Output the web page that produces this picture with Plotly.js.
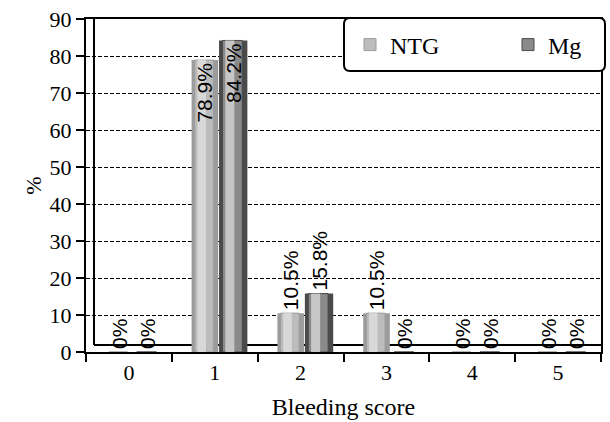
<!DOCTYPE html>
<html>
<head>
<meta charset="utf-8">
<script src="https://cdn.plot.ly/plotly-3.0.1.min.js"></script>
<style>html,body{margin:0;padding:0;background:#fff;}#chart{width:610px;height:422px;}</style>
</head>
<body>
<div id="chart"></div>
<script>
// ---- data ----
var categories = ['0', '1', '2', '3', '4', '5'];
var ntgValues = [0, 78.9, 10.5, 10.5, 0, 0];
var mgValues = [0, 84.2, 15.8, 0, 0, 0];
var ntgLabels = ['0%', '78.9%', '10.5%', '10.5%', '0%', '0%'];
var mgLabels = ['0%', '84.2%', '15.8%', '0%', '0%', '0%'];
var seriesNames = ['NTG', 'Mg'];

// ---- styling helpers ----
var ML = 86, MR = 9, MT = 19, MB = 70, W = 610, H = 422;
var PW = W - ML - MR, PH = H - MT - MB;
var serif = 'Liberation Serif';

function layers(y, name, offset, width, colors, legendId) {
  var res = [];
  var specs = [
    {off: offset, w: width, c: colors[0], legend: false},
    {off: offset + width * 0.12, w: width * 0.70, c: colors[1], legend: true},
    {off: offset + width * 0.22, w: width * 0.32, c: colors[2], legend: false}
  ];
  specs.forEach(function (s) {
    res.push({
      type: 'bar', x: categories, y: y, name: name, legend: legendId,
      offset: s.off, width: s.w,
      marker: {color: s.c, line: s.legend ? {width: 1, color: colors[0]} : {width: 0}},
      showlegend: s.legend, hoverinfo: 'skip'
    });
  });
  return res;
}

var labelFont = {family: 'Liberation Sans', size: 21, color: '#000'};
function labelTrace(y, text, offset, width, name) {
  var pos = y.map(function (v, i) { return i === 1 ? 'inside' : 'outside'; });
  return {
    type: 'bar', x: categories, y: y, name: name, showlegend: false,
    offset: offset, width: width,
    marker: {color: 'rgba(0,0,0,0)', line: {width: 0}},
    text: text, textposition: pos, textangle: -90,
    insidetextanchor: 'end', constraintext: 'none', cliponaxis: false,
    textfont: labelFont, insidetextfont: labelFont, outsidetextfont: labelFont,
    hoverinfo: 'skip'
  };
}

var ntgOff = -0.27, ntgW = 0.31, mgOff = 0.05, mgW = 0.33;

var data = []
  .concat(layers(ntgValues, seriesNames[0], ntgOff, ntgW, ['#9c9c9c', '#bcbcbc', '#d8d8d8'], 'legend'))
  .concat(layers(mgValues, seriesNames[1], mgOff, mgW, ['#4a4a4a', '#8a8a8a', '#c6c6c6'], 'legend2'))
  .concat([labelTrace(ntgValues, ntgLabels, ntgOff, ntgW, seriesNames[0]),
           labelTrace(mgValues, mgLabels, mgOff, mgW, seriesNames[1])]);

// rounded legend box (paper coords)
var bx0 = (344 - ML) / PW, bx1 = (605 - ML) / PW;
var by1 = (H - MB - 18) / PH, by0 = (H - MB - 71) / PH;
var rx = 6 / PW, ry = 6 / PH;
var boxPath = 'M' + (bx0 + rx) + ',' + by1 + ' L' + (bx1 - rx) + ',' + by1 +
  ' Q' + bx1 + ',' + by1 + ' ' + bx1 + ',' + (by1 - ry) +
  ' L' + bx1 + ',' + (by0 + ry) + ' Q' + bx1 + ',' + by0 + ' ' + (bx1 - rx) + ',' + by0 +
  ' L' + (bx0 + rx) + ',' + by0 + ' Q' + bx0 + ',' + by0 + ' ' + bx0 + ',' + (by0 + ry) +
  ' L' + bx0 + ',' + (by1 - ry) + ' Q' + bx0 + ',' + by1 + ' ' + (bx0 + rx) + ',' + by1 + ' Z';

var backX = 8 / PW, floorY = 7 / PH;
var legY = (H - MB - 45) / PH;
var legFont = {size: 24, family: serif, color: '#000'};

var layout = {
  width: W, height: H,
  margin: {l: ML, r: MR, t: MT, b: MB, pad: 0},
  paper_bgcolor: '#fff', plot_bgcolor: '#fff',
  barmode: 'overlay',
  font: {family: serif, color: '#000'},
  xaxis: {
    type: 'category', range: [-0.5, 5.5],
    showline: true, linecolor: '#000', linewidth: 2, mirror: true,
    ticks: 'outside', tickson: 'boundaries', ticklen: 8, tickwidth: 2, tickcolor: '#000',
    tickfont: {size: 22, family: serif, color: '#000'},
    showgrid: false, zeroline: false,
    title: {text: 'Bleeding score', font: {size: 24, family: serif, color: '#000'}, standoff: 14}
  },
  yaxis: {
    range: [0, 90], dtick: 10,
    showline: true, linecolor: '#000', linewidth: 2, mirror: true,
    ticks: 'outside', ticklen: 8, tickwidth: 2, tickcolor: '#000',
    tickfont: {size: 22, family: serif, color: '#000'},
    showgrid: true, gridcolor: '#000', gridwidth: 1, griddash: '4px,2px',
    zeroline: false,
    title: {text: '%', font: {size: 22, family: serif, color: '#000'}, standoff: 2}
  },
  shapes: [
    {type: 'line', xref: 'paper', yref: 'paper', x0: backX, x1: backX, y0: floorY, y1: 1,
     line: {color: '#000', width: 2}, layer: 'below'},
    {type: 'line', xref: 'paper', yref: 'paper', x0: backX, x1: 1, y0: floorY, y1: floorY,
     line: {color: '#000', width: 2}, layer: 'below'},
    {type: 'path', xref: 'paper', yref: 'paper', path: boxPath,
     fillcolor: '#fff', line: {color: '#000', width: 2}, layer: 'above'}
  ],
  legend: {
    x: (350 - ML) / PW, y: legY, xanchor: 'left', yanchor: 'middle',
    bgcolor: 'rgba(0,0,0,0)', borderwidth: 0, font: legFont, itemwidth: 30
  },
  legend2: {
    x: (508 - ML) / PW, y: legY, xanchor: 'left', yanchor: 'middle',
    bgcolor: 'rgba(0,0,0,0)', borderwidth: 0, font: legFont, itemwidth: 30
  },
  showlegend: true
};

Plotly.newPlot('chart', data, layout, {displayModeBar: false, staticPlot: true});
</script>
</body>
</html>
